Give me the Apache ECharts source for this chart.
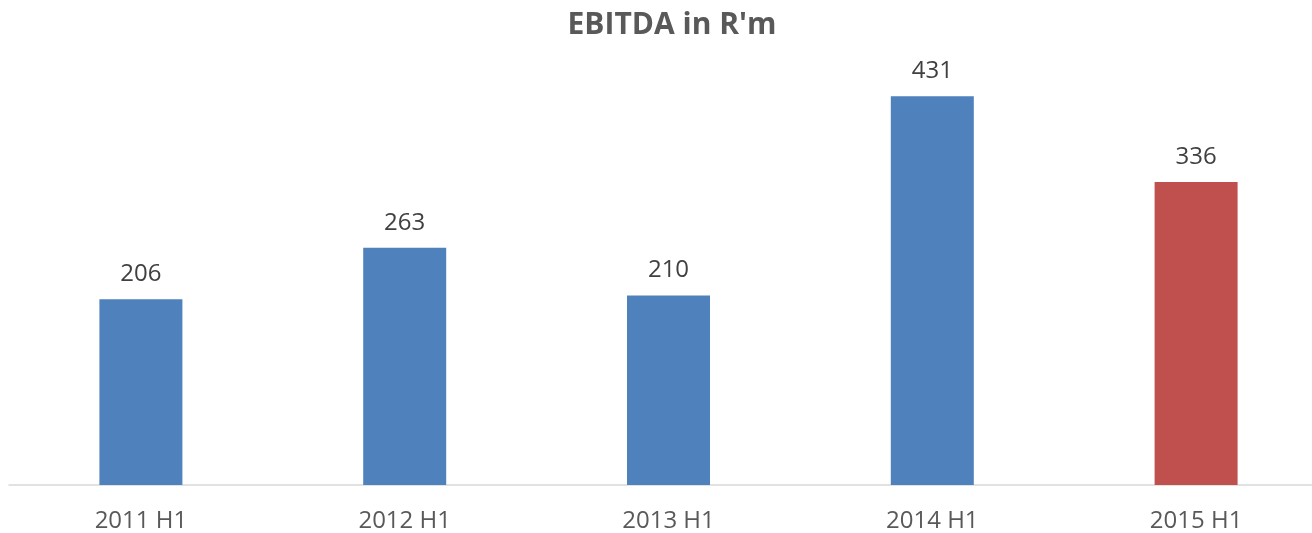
<!DOCTYPE html>
<html lang="en">
<head>
    <meta charset="UTF-8" />
    <title>EBITDA in R'm</title>
    <script src="https://cdn.jsdelivr.net/npm/echarts@6/dist/echarts.min.js"></script>
    <style>
        html, body { margin: 0; padding: 0; background: #fff; }
    </style>
</head>
<body>
    <div id="main" style="width: 1312px; height: 533px"></div>
    <script>
        // data
        var categories = ["2011 H1", "2012 H1", "2013 H1", "2014 H1", "2015 H1"];
        var ebitda = [206, 263, 210, 431, 336];
        var barColors = ["#4F81BD", "#4F81BD", "#4F81BD", "#4F81BD", "#C0504D"];

        var myChart = echarts.init(document.getElementById("main"));

        var option = {
            animation: false,
            title: {
                text: "EBITDA in R'm",
                left: 667,
                textAlign: "center",
                top: 5,
                textStyle: {
                    fontFamily: "Open Sans",
                    fontWeight: "bold",
                    fontSize: 30,
                    color: "#595959",
                },
            },
            grid: {
                left: 9,
                width: 1319,
                top: 34,
                bottom: 48,
                outerBoundsMode: "none",
                containLabel: false,
            },
            xAxis: {
                type: "category",
                data: categories,
                axisLine: { lineStyle: { color: "#D9D9D9", width: 1.5 } },
                axisTick: { show: false },
                axisLabel: {
                    margin: 24,
                    fontFamily: "Open Sans",
                    fontSize: 24,
                    color: "#595959",
                },
            },
            yAxis: {
                type: "value",
                min: 0,
                max: 500,
                show: false,
                splitLine: { show: false },
            },
            series: [
                {
                    type: "bar",
                    barWidth: 83,
                    data: ebitda.map(function (v, i) {
                        return { value: v, itemStyle: { color: barColors[i] } };
                    }),
                    label: {
                        show: true,
                        position: "top",
                        distance: 13,
                        fontFamily: "Open Sans",
                        fontSize: 24,
                        color: "#404040",
                    },
                },
            ],
        };

        myChart.setOption(option);
    </script>
</body>
</html>
